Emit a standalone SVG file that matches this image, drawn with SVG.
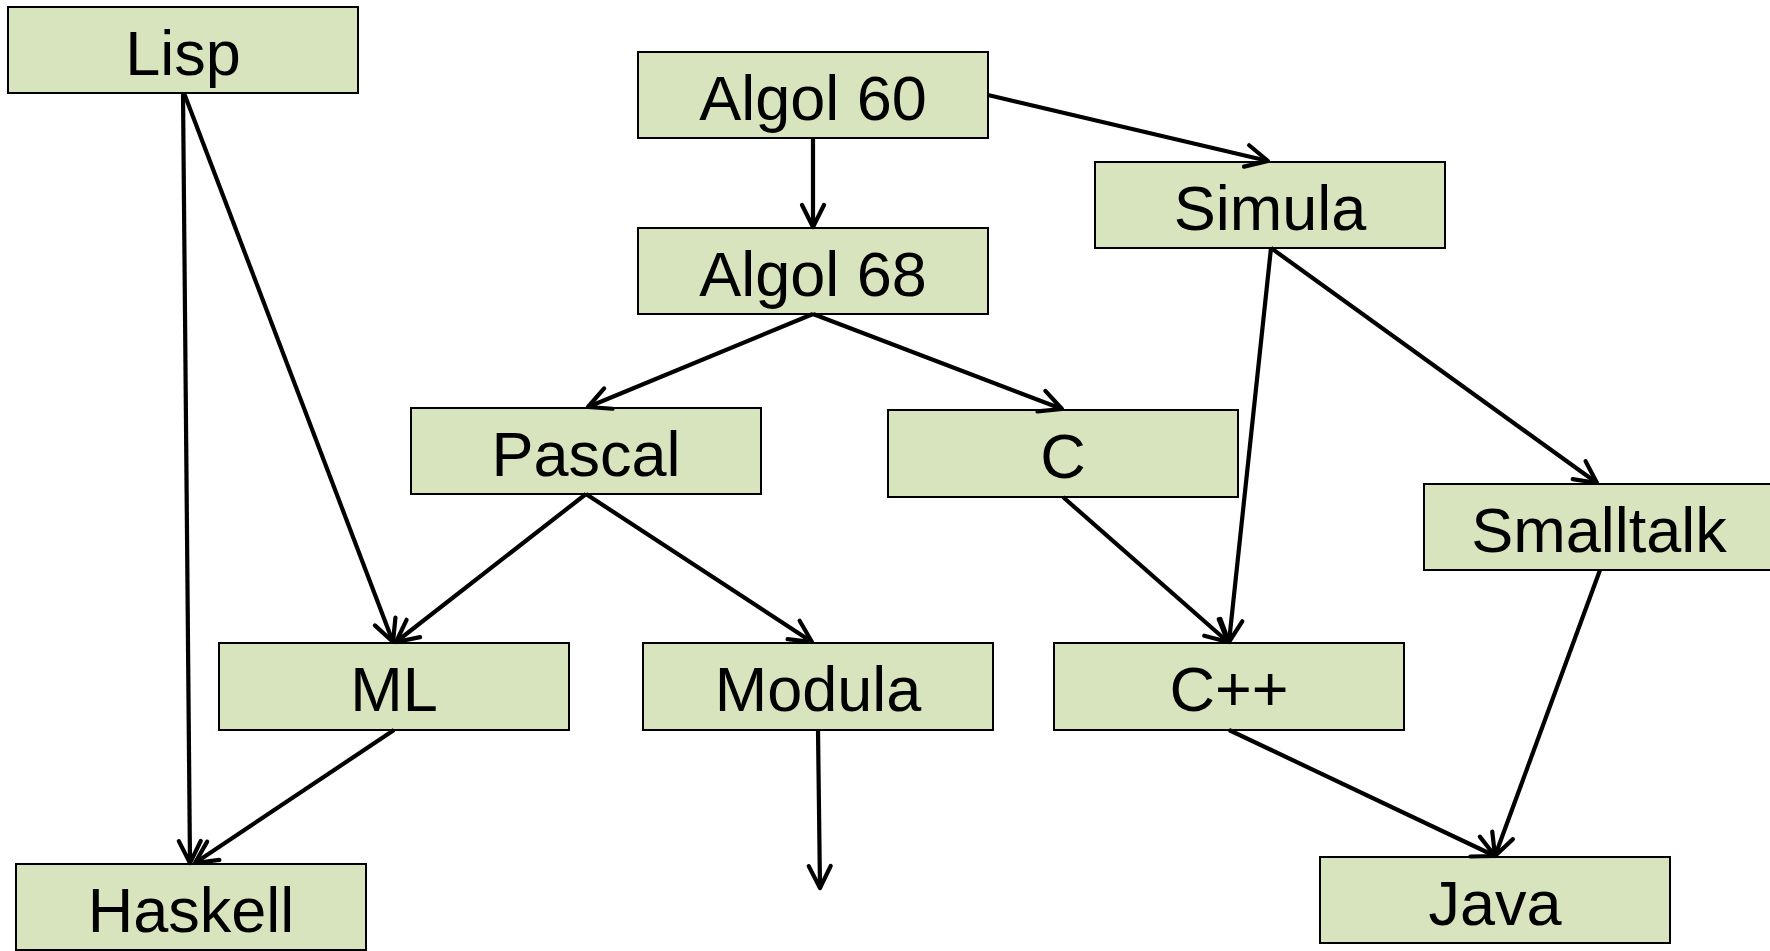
<svg xmlns="http://www.w3.org/2000/svg" width="1770" height="951" viewBox="0 0 1770 951">
<style>
.box{fill:#D7E4BD;stroke:#000;stroke-width:2}
.lbl{font-family:"Liberation Sans",Arial,sans-serif;font-size:63px;fill:#000;text-anchor:middle}
.edge{stroke:#000;stroke-width:4.2;fill:none;marker-end:url(#arr)}
</style>
<defs>
<marker id="arr" markerUnits="userSpaceOnUse" viewBox="-26 -15 30 30" refX="0" refY="0" markerWidth="30" markerHeight="30" orient="auto">
<path d="M-22,-11 L0,0 L-22,11" fill="none" stroke="#000" stroke-width="4.2" stroke-linecap="round" stroke-linejoin="round"/>
</marker>
</defs>
<rect width="1770" height="951" fill="#fff"/>
<g id="lisp"><rect class="box" x="8" y="7" width="350" height="86"/><text class="lbl" x="183" y="75">Lisp</text></g>
<g id="algol60"><rect class="box" x="638" y="52" width="350" height="86"/><text class="lbl" x="813" y="120">Algol 60</text></g>
<g id="algol68"><rect class="box" x="638" y="228" width="350" height="86"/><text class="lbl" x="813" y="296">Algol 68</text></g>
<g id="simula"><rect class="box" x="1095" y="162" width="350" height="86"/><text class="lbl" x="1270" y="230">Simula</text></g>
<g id="pascal"><rect class="box" x="411" y="408" width="350" height="86"/><text class="lbl" x="586" y="476">Pascal</text></g>
<g id="c"><rect class="box" x="888" y="410" width="350" height="87"/><text class="lbl" x="1063" y="478">C</text></g>
<g id="smalltalk"><rect class="box" x="1424" y="484" width="350" height="86"/><text class="lbl" x="1599" y="552">Smalltalk</text></g>
<g id="ml"><rect class="box" x="219" y="643" width="350" height="87"/><text class="lbl" x="394" y="711">ML</text></g>
<g id="modula"><rect class="box" x="643" y="643" width="350" height="87"/><text class="lbl" x="818" y="711">Modula</text></g>
<g id="cpp"><rect class="box" x="1054" y="643" width="350" height="87"/><text class="lbl" x="1229" y="711">C++</text></g>
<g id="haskell"><rect class="box" x="16" y="864" width="350" height="86"/><text class="lbl" x="191" y="932">Haskell</text></g>
<g id="java"><rect class="box" x="1320" y="857" width="350" height="86"/><text class="lbl" x="1495" y="925">Java</text></g>
<g id="connectors">
<line class="edge" x1="183" y1="93" x2="190" y2="863"/>
<line class="edge" x1="184" y1="93" x2="393" y2="642"/>
<line class="edge" x1="813" y1="138" x2="813" y2="227"/>
<line class="edge" x1="988" y1="95" x2="1268" y2="161"/>
<line class="edge" x1="813" y1="314" x2="588" y2="407"/>
<line class="edge" x1="813" y1="314" x2="1062" y2="409"/>
<line class="edge" x1="586" y1="494" x2="396" y2="642"/>
<line class="edge" x1="586" y1="494" x2="812" y2="642"/>
<line class="edge" x1="818" y1="730" x2="820" y2="888"/>
<line class="edge" x1="1063" y1="497" x2="1228" y2="642"/>
<line class="edge" x1="1271" y1="248" x2="1229" y2="642"/>
<line class="edge" x1="1271" y1="248" x2="1597" y2="483"/>
<line class="edge" x1="1600" y1="570" x2="1495" y2="856"/>
<line class="edge" x1="1229" y1="730" x2="1495" y2="856"/>
<line class="edge" x1="394" y1="730" x2="195" y2="863"/>
</g>
</svg>
